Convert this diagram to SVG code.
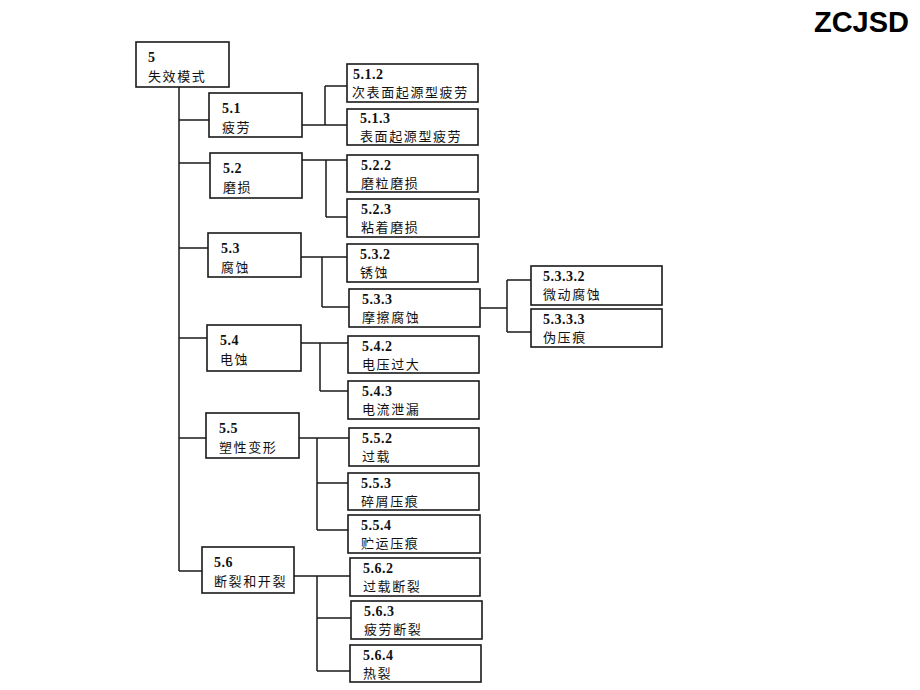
<svg xmlns="http://www.w3.org/2000/svg" width="920" height="690" viewBox="0 0 920 690">
<style>
.b{fill:#fff;stroke:#1a1a1a;stroke-width:1.6}
.n{font-family:"Liberation Serif",serif;font-weight:bold;font-size:14px;fill:#111;letter-spacing:0.5px}
.c{font-family:"Noto Sans CJK SC",sans-serif;font-size:13px;fill:#111;letter-spacing:1.6px}
.l{fill:none;stroke:#1a1a1a;stroke-width:1.5}
.t{font-family:"Liberation Sans",sans-serif;font-weight:bold;font-size:29px;fill:#000}
</style>
<rect width="920" height="690" fill="#fff"/>
<text class="t" x="909" y="32" text-anchor="end">ZCJSD</text>
<g id="connectors">
<path class="l" d="M179,87V571 M179,120H209 M179,163H210 M179,248H208 M179,338H207 M179,438H206 M179,571H202"/>
<path class="l" d="M302,125H325 M325,86V125 M325,86H347 M325,125H347"/>
<path class="l" d="M302,160H326 M326,160V217 M326,160H347 M326,217H347"/>
<path class="l" d="M301,257H322 M322,257V307 M322,257H347 M322,307H349"/>
<path class="l" d="M480,308H507 M507,280V332 M507,280H531 M507,332H531"/>
<path class="l" d="M301,343H320 M320,343V391 M320,343H348 M320,391H348"/>
<path class="l" d="M299,438H317 M317,438V530 M317,438H349 M317,483H348 M317,530H348"/>
<path class="l" d="M294,576H317 M317,576V671 M317,576H350 M317,618H351 M317,671H350"/>
</g>
<g id="n5"><rect class="b" x="136" y="42" width="93" height="45"/><text class="n" x="148" y="62">5</text><text class="c" x="148" y="81">失效模式</text></g>
<g id="n51"><rect class="b" x="209" y="93" width="93" height="44"/><text class="n" x="222" y="113">5.1</text><text class="c" x="222" y="132">疲劳</text></g>
<g id="n512"><rect class="b" x="347" y="64" width="131" height="38"/><text class="n" x="353" y="79">5.1.2</text><text class="c" x="352" y="97">次表面起源型疲劳</text></g>
<g id="n513"><rect class="b" x="347" y="109" width="131" height="36"/><text class="n" x="360" y="123">5.1.3</text><text class="c" x="360" y="141">表面起源型疲劳</text></g>
<g id="n52"><rect class="b" x="210" y="153" width="92" height="45"/><text class="n" x="223" y="173">5.2</text><text class="c" x="223" y="192">磨损</text></g>
<g id="n522"><rect class="b" x="347" y="155" width="131" height="37"/><text class="n" x="361" y="170">5.2.2</text><text class="c" x="361" y="188">磨粒磨损</text></g>
<g id="n523"><rect class="b" x="347" y="199" width="132" height="38"/><text class="n" x="361" y="214">5.2.3</text><text class="c" x="361" y="232">粘着磨损</text></g>
<g id="n53"><rect class="b" x="208" y="233" width="93" height="44"/><text class="n" x="221" y="253">5.3</text><text class="c" x="221" y="272">腐蚀</text></g>
<g id="n532"><rect class="b" x="347" y="244" width="131" height="38"/><text class="n" x="360" y="259">5.3.2</text><text class="c" x="360" y="277">锈蚀</text></g>
<g id="n533"><rect class="b" x="349" y="289" width="131" height="38"/><text class="n" x="362" y="304">5.3.3</text><text class="c" x="362" y="322">摩擦腐蚀</text></g>
<g id="n5332"><rect class="b" x="531" y="266" width="131" height="39"/><text class="n" x="543" y="281">5.3.3.2</text><text class="c" x="543" y="299">微动腐蚀</text></g>
<g id="n5333"><rect class="b" x="531" y="309" width="131" height="38"/><text class="n" x="543" y="324">5.3.3.3</text><text class="c" x="543" y="342">伪压痕</text></g>
<g id="n54"><rect class="b" x="207" y="325" width="94" height="46"/><text class="n" x="220" y="345">5.4</text><text class="c" x="220" y="364">电蚀</text></g>
<g id="n542"><rect class="b" x="348" y="336" width="131" height="37"/><text class="n" x="362" y="351">5.4.2</text><text class="c" x="362" y="369">电压过大</text></g>
<g id="n543"><rect class="b" x="348" y="381" width="131" height="38"/><text class="n" x="362" y="396">5.4.3</text><text class="c" x="362" y="414">电流泄漏</text></g>
<g id="n55"><rect class="b" x="206" y="413" width="93" height="45"/><text class="n" x="219" y="433">5.5</text><text class="c" x="219" y="452">塑性变形</text></g>
<g id="n552"><rect class="b" x="349" y="428" width="130" height="38"/><text class="n" x="362" y="443">5.5.2</text><text class="c" x="362" y="461">过载</text></g>
<g id="n553"><rect class="b" x="348" y="473" width="131" height="37"/><text class="n" x="361" y="488">5.5.3</text><text class="c" x="361" y="506">碎屑压痕</text></g>
<g id="n554"><rect class="b" x="348" y="515" width="132" height="38"/><text class="n" x="361" y="530">5.5.4</text><text class="c" x="361" y="548">贮运压痕</text></g>
<g id="n56"><rect class="b" x="202" y="547" width="92" height="46"/><text class="n" x="214" y="567">5.6</text><text class="c" x="214" y="586">断裂和开裂</text></g>
<g id="n562"><rect class="b" x="350" y="558" width="130" height="38"/><text class="n" x="363" y="573">5.6.2</text><text class="c" x="363" y="591">过载断裂</text></g>
<g id="n563"><rect class="b" x="351" y="601" width="131" height="38"/><text class="n" x="364" y="616">5.6.3</text><text class="c" x="364" y="634">疲劳断裂</text></g>
<g id="n564"><rect class="b" x="350" y="645" width="131" height="37"/><text class="n" x="363" y="660">5.6.4</text><text class="c" x="363" y="678">热裂</text></g>
</svg>
